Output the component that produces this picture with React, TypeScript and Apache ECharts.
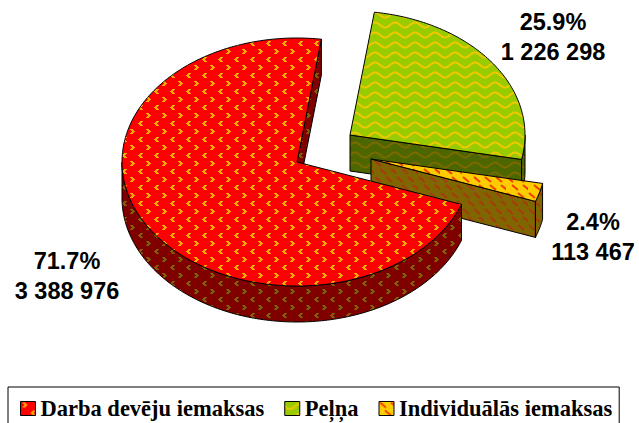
import React, { useEffect, useRef } from "react";
import * as echarts from "echarts";

const categories = ["Darba devēju iemaksas", "Peļņa", "Individuālās iemaksas"];
const values = [3388976, 1226298, 113467];
const percentLabels = ["71.7%", "25.9%", "2.4%"];
const valueLabels = ["3 388 976", "1 226 298", "113 467"];

const FIRST_ANGLE = 110;
const CX = 297, CY = 162, RX = 175, RY = 124, DEPTH = 36;
const offsets = [[0, 0], [53, -27], [74, -3]];
const labelPos = [[67, 261], [553, 22], [593, 222]];
const LABEL_GAP = 30;

type Painter = (c: CanvasRenderingContext2D) => void;
function tile(w: number, h: number, bg: string, paint: Painter) {
  const cv = document.createElement("canvas");
  cv.width = w; cv.height = h;
  const c = cv.getContext("2d")!;
  c.fillStyle = bg; c.fillRect(0, 0, w, h);
  paint(c);
  return { image: cv, repeat: "repeat" as const };
}
const chevrons = (ink: string): Painter => (c) => {
  c.fillStyle = ink;
  const right = [[0, 0], [1, 1], [2, 2], [1, 3], [0, 4]];
  const left = [[2, 0], [1, 1], [0, 2], [1, 3], [2, 4]];
  right.forEach(([x, y]) => c.fillRect(2 + x, 1 + y, 3, 1));
  left.forEach(([x, y]) => c.fillRect(10 + x, 9 + y, 3, 1));
};
const waves = (ink: string): Painter => (c) => {
  c.strokeStyle = ink; c.lineWidth = 2;
  c.beginPath();
  for (let x = -1; x <= 21; x += 0.5) {
    const y = 5 + 2.5 * Math.sin((x / 20) * 2 * Math.PI);
    if (x === -1) c.moveTo(x, y); else c.lineTo(x, y);
  }
  c.stroke();
};
const dashes = (ink: string): Painter => (c) => {
  c.strokeStyle = ink; c.lineWidth = 2;
  [[1, 1], [12, 1], [6, 9], [17, 9]].forEach(([x, y]) => {
    c.beginPath(); c.moveTo(x, y); c.lineTo(x + 6, y + 5); c.stroke();
  });
};

const topFills = [
  tile(16, 16, "#ff0000", chevrons("#ffaa00")),
  tile(20, 10, "#99cc00", waves("#f0c800")),
  tile(22, 16, "#ffcc00", dashes("#f04000")),
];
const sideFills = [
  tile(16, 16, "#800000", chevrons("#806000")),
  tile(20, 10, "#4c6600", waves("#7a6a00")),
  tile(22, 16, "#806600", dashes("#a83a10")),
];

const total = values.reduce((a, b) => a + b, 0);
const pt = (deg: number, ox: number, oy: number, dz = 0): number[] => {
  const r = (deg * Math.PI) / 180;
  return [CX + ox + RX * Math.sin(r), CY + oy - RY * Math.cos(r) + dz];
};
const arc = (a: number, b: number, ox: number, oy: number, dz = 0) => {
  const out: number[][] = [];
  const n = Math.max(2, Math.ceil(Math.abs(b - a)));
  for (let i = 0; i <= n; i++) out.push(pt(a + ((b - a) * i) / n, ox, oy, dz));
  return out;
};

function renderSlice(index: number) {
  let start = FIRST_ANGLE;
  for (let i = 0; i < index; i++) start += (values[i] / total) * 360;
  start = start % 360;
  const end = start + (values[index] / total) * 360;
  const [ox, oy] = offsets[index];
  const apex = [CX + ox, CY + oy];
  const apexLow = [apex[0], apex[1] + DEPTH];
  const line = { stroke: "#000", lineWidth: 1, lineJoin: "round" };
  const side = sideFills[index];
  const poly = (points: number[][], fill: unknown) => ({
    type: "polygon", shape: { points }, style: { fill, ...line },
  });
  const children: unknown[] = [];

  // Cut face at the slice's closing edge: visible on all three slices.
  const endPt = pt(end, ox, oy);
  children.push(poly([apex, endPt, pt(end, ox, oy, DEPTH), apexLow], side));
  // Outer rim: the part of the arc in the front half of the ellipse.
  const rimA = Math.max(start, 90);
  const rimB = Math.min(end, 270);
  if (rimB > rimA) {
    children.push(poly([...arc(rimA, rimB, ox, oy), ...arc(rimB, rimA, ox, oy, DEPTH)], side));
  }
  children.push(poly([apex, ...arc(start, end, ox, oy)], topFills[index]));

  const [lx, ly] = labelPos[index];
  const font = "bold 23.5px 'Liberation Sans', Arial, sans-serif";
  [percentLabels[index], valueLabels[index]].forEach((text, k) => {
    children.push({
      type: "text", x: lx, y: ly + k * LABEL_GAP,
      style: { text, fill: "#000", font, align: "center", verticalAlign: "middle" },
    });
  });
  return { type: "group", children };
}

export default function App() {
  const ref = useRef<HTMLDivElement>(null);
  useEffect(() => {
    document.body.style.margin = "0";
    document.body.style.overflow = "hidden";
    const chart = echarts.init(ref.current!, undefined, { renderer: "svg" });
    const drawOrder = [1, 2, 0];
    chart.setOption({
      animation: false,
      backgroundColor: "#fff",
      legend: {
        show: true,
        data: categories.map((name, i) => ({
          name,
          icon: "rect",
          itemStyle: { color: topFills[i] as never, borderColor: "#000", borderWidth: 1 },
        })),
        left: 8, top: 387,
        padding: [10, 7, 12, 12],
        itemWidth: 15, itemHeight: 14, itemGap: 20,
        backgroundColor: "#fff",
        borderColor: "#000", borderWidth: 1,
        selectedMode: false,
        textStyle: {
          fontFamily: "'Liberation Serif', 'Times New Roman', serif",
          fontWeight: "bold", fontSize: 22.5, color: "#000",
        },
      },
      series: drawOrder.map((i) => ({
        type: "custom",
        name: categories[i],
        coordinateSystem: "none",
        silent: true,
        data: [values[i]],
        itemStyle: { color: topFills[i] as never },
        renderItem: () => renderSlice(i),
      })),
    });
    return () => chart.dispose();
  }, []);
  return <div ref={ref} style={{ width: 639, height: 423 }} />;
}
